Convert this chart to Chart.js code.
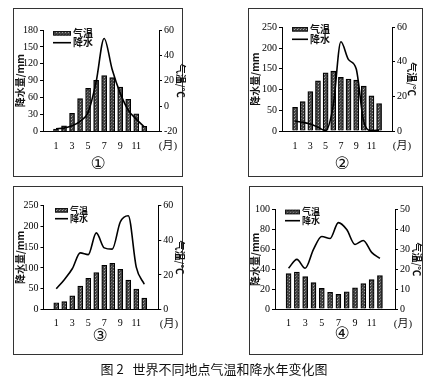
<!DOCTYPE html>
<html><head><meta charset="utf-8">
<script src="https://cdn.jsdelivr.net/npm/chart.js@4.4.1/dist/chart.umd.min.js"></script>
<style>
body{margin:0;background:#fff;width:429px;height:380px;position:relative;overflow:hidden;font-family:"Noto Sans CJK SC",sans-serif}
.box{position:absolute;border:1.5px solid #333;box-sizing:border-box}
canvas{position:absolute}
.t{position:absolute;transform:translate(-50%,-50%);white-space:nowrap;color:#111}
.m{font:11px "Liberation Serif","Noto Sans CJK SC",serif}
.c{font:17px "DejaVu Sans","Noto Sans CJK SC",sans-serif}
</style></head><body>
<div class="box" style="left:13px;top:8px;width:170px;height:169px"></div>
<div class="box" style="left:248px;top:8px;width:175px;height:169px"></div>
<div class="box" style="left:13px;top:186px;width:170px;height:169px"></div>
<div class="box" style="left:249px;top:186px;width:174px;height:169px"></div>
<canvas id="c1" width="178" height="169" style="left:13px;top:8px"></canvas>
<canvas id="c2" width="183" height="169" style="left:248px;top:8px"></canvas>
<canvas id="c3" width="178" height="169" style="left:13px;top:186px"></canvas>
<canvas id="c4" width="182" height="169" style="left:249px;top:186px"></canvas>
<span class="t m" style="left:168px;top:144px">(月)</span>
<span class="t m" style="left:402px;top:144px">(月)</span>
<span class="t m" style="left:169px;top:322px">(月)</span>
<span class="t m" style="left:403px;top:322px">(月)</span>
<span class="t c" style="left:98px;top:163px">①</span>
<span class="t c" style="left:342px;top:163px">②</span>
<span class="t c" style="left:100px;top:335px">③</span>
<span class="t c" style="left:342px;top:333px">④</span>
<span class="t" style="left:214px;top:368px;font-size:13px">图 2&nbsp;&nbsp;&nbsp;世界不同地点气温和降水年变化图</span>
<script>
const months = [1,2,3,4,5,6,7,8,9,10,11,12];
const monthTicks = [1,3,5,7,9,11];
const legendLabels = ['气温','降水'];
const leftTitle = '降水量/mm';
const rightTitle = '气温/℃';

const temp1 = [-18, -15.5, -5.6, 6, 14, 20.4, 24, 22.5, 15, 5.4, -6, -16];
const rain1 = [5, 6, 10, 18, 34, 88, 165, 110, 68, 38, 22, 8];
const temp2 = [13.7, 17, 22.8, 29, 33.6, 34.6, 31, 30, 29.5, 26, 20.3, 15.8];
const rain2 = [24, 21, 17, 9, 1, 62, 215, 172, 150, 22, 1, 2];
const temp3 = [4, 4.6, 7.9, 13.6, 18, 21.3, 25.5, 26.6, 23.2, 17, 11.9, 6.7];
const rain3 = [50, 72, 98, 136, 132, 184, 148, 145, 210, 225, 102, 61];
const temp4 = [17.8, 18.6, 16.3, 13.3, 10.4, 8.4, 7.4, 8.7, 10.6, 12.8, 14.8, 16.8];
const rain4 = [41, 50, 41, 60, 73, 71, 87, 80, 65, 69, 57, 51];

function makePattern(){
  const c=document.createElement('canvas');c.width=3;c.height=3;
  const g=c.getContext('2d');
  g.fillStyle='#444';g.fillRect(0,0,3,3);
  g.fillStyle='#a8a8a8';g.fillRect(1,0,1,1);
  g.fillStyle='#777';g.fillRect(2,2,1,1);
  return g.createPattern(c,'repeat');
}
const pat = makePattern();

const miniLegend = {
  id:'miniLegend',
  afterDraw(chart, args, o){
    const ctx=chart.ctx, a=chart.chartArea;
    ctx.save();
    ctx.font=o.font; ctx.textBaseline='middle'; ctx.textAlign='left';
    chart.data.datasets.forEach((ds,i)=>{
      const x=a.left+o.x, y=a.top+o.y+i*o.gap;
      if(ds.type==='bar'){
        ctx.fillStyle=ds.backgroundColor; ctx.fillRect(x,y-o.h/2,o.w,o.h);
        ctx.strokeStyle='#111'; ctx.lineWidth=1; ctx.strokeRect(x+0.5,y-o.h/2+0.5,o.w-1,o.h-1);
      } else {
        ctx.beginPath(); ctx.moveTo(x,y); ctx.lineTo(x+o.w,y);
        ctx.strokeStyle=ds.borderColor; ctx.lineWidth=ds.borderWidth; ctx.stroke();
      }
      ctx.fillStyle='#111'; ctx.fillText(ds.label,x+o.w+2,y);
    });
    ctx.restore();
  }
};

const tickFont={family:'"Liberation Serif", serif',size:10};
const titleFont={family:'"Noto Sans CJK SC", sans-serif',size:10,weight:'bold'};

function makeChart(id, temp, rain, g){
  const ctx=document.getElementById(id);
  const W=ctx.width, H=ctx.height;
  new Chart(ctx,{
    data:{
      labels:months,
      datasets:[
        {type:'bar',label:legendLabels[0],data:temp,yAxisID:'yR',backgroundColor:pat,borderColor:'#000',borderWidth:1.2,barThickness:g.bw,base:g.rMin,order:2},
        {type:'line',label:legendLabels[1],data:rain,yAxisID:'yL',borderColor:'#000',borderWidth:1.6,pointRadius:0,fill:false,cubicInterpolationMode:'monotone',order:1}
      ]
    },
    options:{
      responsive:false,animation:false,
      layout:{padding:{top:g.T,left:0,right:0,bottom:0}},
      plugins:{legend:{display:false},tooltip:{enabled:false},
        miniLegend:{x:g.lx,y:g.ly,gap:g.lg,w:g.lw,h:4.5,font:'bold '+g.lf+'px "Noto Sans CJK SC"'}},
      scales:{
        x:{type:'linear',position:'bottom',min:g.xMin,max:g.xMax,
          afterBuildTicks:(s)=>{s.ticks=monthTicks.map(v=>({value:v}));},
          afterFit:(s)=>{s.height=H-g.B;},
          grid:{display:false,drawTicks:false},
          border:{display:true,color:'#000',width:1},
          ticks:{font:tickFont,color:'#000',padding:g.xp,maxRotation:0,autoSkip:false}},
        yL:{type:'linear',position:'left',min:0,max:g.lMax,
          afterFit:(s)=>{s.width=g.L;},
          grid:{drawOnChartArea:false,drawTicks:true,tickLength:3,color:'#000'},
          border:{display:true,color:'#000',width:1},
          ticks:{stepSize:g.lStep,font:tickFont,color:'#000',padding:2},
          title:{display:true,text:leftTitle,font:titleFont,color:'#111',padding:{top:g.ltp,bottom:0}}},
        yR:{type:'linear',position:'right',min:g.rMin,max:g.rMax,
          afterFit:(s)=>{s.width=W-g.R;},
          grid:{drawOnChartArea:false,drawTicks:true,tickLength:3,color:'#000'},
          border:{display:true,color:'#000',width:1},
          ticks:{stepSize:g.rStep,font:tickFont,color:'#000',padding:2},
          title:{display:true,text:rightTitle,font:titleFont,color:'#111',padding:{top:g.rtp,bottom:0}}}
      }
    },
    plugins:[miniLegend]
  });
}

makeChart('c1',temp1,rain1,{L:30,R:146,T:22,B:123.5,xMin:0.585,xMax:12.63,lMax:180,lStep:30,rMin:-20,rMax:60,rStep:20,bw:5,xp:9,ltp:1,rtp:4,lx:10,ly:3.3,lg:9.4,lw:18,lf:10});
makeChart('c2',temp2,rain2,{L:34,R:144,T:19.3,B:123,xMin:0.49,xMax:12.49,lMax:250,lStep:50,rMin:0,rMax:60,rStep:20,bw:5,xp:9,ltp:1.7,rtp:13,lx:10,ly:2,lg:10,lw:16,lf:10});
makeChart('c3',temp3,rain3,{L:30.5,R:145.3,T:19.3,B:123.7,xMin:0.6,xMax:12.56,lMax:250,lStep:50,rMin:0,rMax:60,rStep:20,bw:5,xp:8,ltp:1,rtp:5,lx:11.5,ly:5,lg:8.4,lw:13,lf:9});
makeChart('c4',temp4,rain4,{L:26,R:146,T:23.7,B:123,xMin:0.57,xMax:12.61,lMax:100,lStep:20,rMin:0,rMax:50,rStep:10,bw:5,xp:8,ltp:0,rtp:8,lx:10,ly:2.3,lg:8.7,lw:15,lf:9});
</script>
</body></html>
